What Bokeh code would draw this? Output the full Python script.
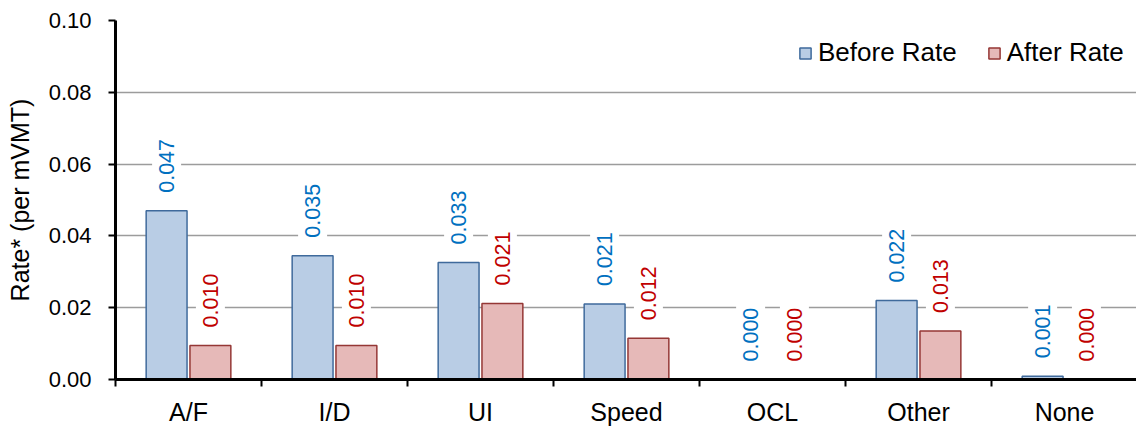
import math
from bokeh.plotting import figure
from bokeh.models import ColumnDataSource, Range1d, FixedTicker, Legend, LegendItem
from bokeh.transform import dodge
from bokeh.core.properties import value
from bokeh.embed import file_html
from bokeh.resources import INLINE

categories = ["A/F", "I/D", "UI", "Speed", "OCL", "Other", "None"]
before_rate = [0.047, 0.0345, 0.0326, 0.021, 0.0, 0.022, 0.0009]
after_rate = [0.0095, 0.0095, 0.0212, 0.0115, 0.0, 0.0135, 0.0]
before_labels = ["0.047", "0.035", "0.033", "0.021", "0.000", "0.022", "0.001"]
after_labels = ["0.010", "0.010", "0.021", "0.012", "0.000", "0.013", "0.000"]
y_ticks = [0.0, 0.02, 0.04, 0.06, 0.08, 0.10]

FONT = "Liberation Sans"

pos = [i + 0.5 for i in range(len(categories))]
src = ColumnDataSource(dict(x=pos, cat=categories, before=before_rate, after=after_rate,
                            bl=before_labels, al=after_labels))

p = figure(width=1136, height=428, output_backend="svg", toolbar_location=None,
           x_range=Range1d(0, 6.993), y_range=Range1d(0, 0.10),
           min_border_left=115, min_border_right=0, min_border_top=20, min_border_bottom=49)
p.outline_line_color = None
p.background_fill_color = "white"
p.border_fill_color = "white"

r1 = p.vbar(x=dodge("x", -0.15), top="before", width=0.28, source=src,
            fill_color="#B9CDE5", line_color="#3F6A9C", line_width=1.5)
r2 = p.vbar(x=dodge("x", 0.15), top="after", width=0.28, source=src,
            fill_color="#E6B9B8", line_color="#953735", line_width=1.5)

common = dict(angle=math.pi / 2, text_align="left", text_baseline="middle",
              text_font=value(FONT), text_font_size="21.5px", y_offset=-11,
              background_fill_color="white", padding=7)
p.text(x=dodge("x", -0.15), y="before", text="bl", source=src, text_color="#0070C0", **common)
p.text(x=dodge("x", 0.15), y="after", text="al", source=src, text_color="#C00000", **common)

# axes
p.xaxis.ticker = FixedTicker(ticks=pos, minor_ticks=list(range(len(categories) + 1)))
p.xaxis.major_label_overrides = {v: c for v, c in zip(pos, categories)}
p.xaxis.major_tick_line_color = None
p.xaxis.minor_tick_line_color = "black"
p.xaxis.minor_tick_line_width = 2
p.xaxis.minor_tick_out = 7
p.xaxis.minor_tick_in = 0
p.xaxis.axis_line_width = 3
p.xaxis.axis_line_color = "black"
p.xaxis.major_label_text_font = FONT
p.xaxis.major_label_text_font_size = "25px"
p.xaxis.major_label_text_color = "black"
p.xaxis.major_label_standoff = 11

p.yaxis.ticker = FixedTicker(ticks=y_ticks, minor_ticks=[])
p.yaxis.major_label_overrides = {v: f"{v:.2f}" for v in y_ticks}
p.yaxis.axis_line_width = 3
p.yaxis.axis_line_color = "black"
p.yaxis.major_tick_line_width = 2
p.yaxis.major_tick_out = 7
p.yaxis.major_tick_in = 0
p.yaxis.minor_tick_line_color = None
p.yaxis.major_label_text_font = FONT
p.yaxis.major_label_text_font_size = "22px"
p.yaxis.major_label_text_color = "black"
p.yaxis.major_label_standoff = 17
p.yaxis.axis_label = "Rate* (per mVMT)"
p.yaxis.axis_label_text_font = FONT
p.yaxis.axis_label_text_font_size = "25px"
p.yaxis.axis_label_text_font_style = "normal"
p.yaxis.axis_label_text_color = "black"
p.yaxis.axis_label_standoff = 12

p.xgrid.grid_line_color = None
p.ygrid.grid_line_color = "#9C9C9C"
p.ygrid.grid_line_width = 1.5

legend = Legend(items=[LegendItem(label="Before Rate", renderers=[r1]),
                       LegendItem(label="After Rate", renderers=[r2])],
                orientation="horizontal", location=(683, 311),
                padding=0, spacing=30, label_standoff=6,
                glyph_width=14, glyph_height=14,
                label_text_font=FONT, label_text_font_size="26px",
                label_text_color="black",
                border_line_color=None, background_fill_alpha=0)
p.add_layout(legend)

open("out.html", "w").write(file_html(p, INLINE))
